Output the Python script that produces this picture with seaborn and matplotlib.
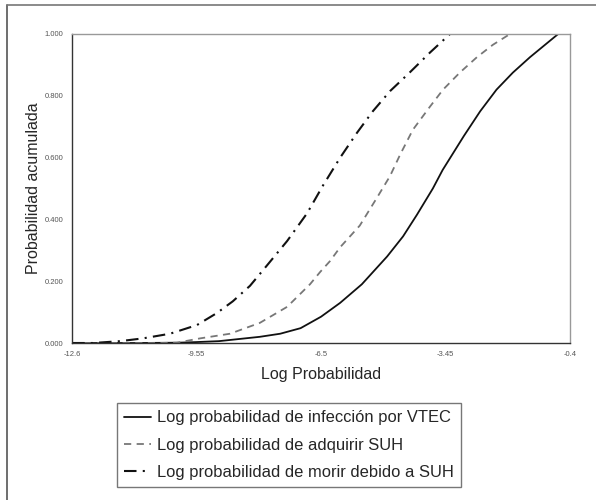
import matplotlib
matplotlib.use("Agg")
import matplotlib.pyplot as plt
from matplotlib.lines import Line2D
import numpy as np
import pandas as pd
import seaborn as sns

# Cumulative probability curves
vtec_x = [-12.6, -11.0, -10.0, -9.55, -9.0, -8.0, -7.5, -7.0, -6.5, -6.03, -5.5,
          -4.88, -4.49, -4.15, -3.76, -3.52, -3.0, -2.6, -2.2, -1.8, -1.38, -0.69]
vtec_y = [0.0, 0.0, 0.001, 0.003, 0.006, 0.02, 0.03, 0.048, 0.085, 0.13, 0.19,
          0.28, 0.345, 0.415, 0.50, 0.56, 0.67, 0.75, 0.82, 0.875, 0.925, 1.0]

suh_x = [-12.6, -10.5, -10.03, -9.46, -8.73, -8.0, -7.33, -7.0, -6.77, -6.52, -6.28,
         -6.03, -5.55, -5.13, -4.81, -4.56, -4.25, -3.83, -3.51, -3.10, -2.68, -2.29, -1.87]
suh_y = [0.0, 0.0, 0.001, 0.015, 0.03, 0.065, 0.117, 0.16, 0.19, 0.23, 0.265,
         0.31, 0.38, 0.47, 0.54, 0.61, 0.69, 0.765, 0.82, 0.875, 0.925, 0.965, 1.0]

morir_x = [-12.6, -12.08, -11.42, -10.86, -10.2, -9.54, -9.05, -8.66, -8.24, -7.83,
           -7.33, -6.84, -6.45, -6.03, -5.62, -5.23, -4.81, -4.33, -3.83, -3.34]
morir_y = [0.0, 0.0, 0.006, 0.015, 0.03, 0.058, 0.097, 0.135, 0.185, 0.25,
           0.33, 0.42, 0.51, 0.60, 0.68, 0.75, 0.815, 0.875, 0.94, 1.0]

labels = ["Log probabilidad de infección por VTEC",
          "Log probabilidad de adquirir SUH",
          "Log probabilidad de morir debido a SUH"]
x_ticks = [-12.6, -9.55, -6.5, -3.45, -0.4]
y_ticks = [0.0, 0.2, 0.4, 0.6, 0.8, 1.0]

sns.set_style("white")
plt.rcParams["font.family"] = ["Liberation Sans", "DejaVu Sans"]

fig = plt.figure(figsize=(5.96, 5.0), dpi=100)
ax = fig.add_axes([72 / 596, 1 - 343 / 500, (570 - 72) / 596, (343 - 34) / 500])

styles = [
    dict(color="#111111", linestyle="-", lw=1.3),
    dict(color="#777777", linestyle=(0, (4, 3)), lw=1.3),
    dict(color="#111111", linestyle=(0, (6, 3, 1, 3)), lw=1.5),
]
series = [(vtec_x, vtec_y), (suh_x, suh_y), (morir_x, morir_y)]
for (xs, ys), st, lab in zip(series, styles, labels):
    df = pd.DataFrame({"x": xs, "y": ys})
    sns.lineplot(data=df, x="x", y="y", ax=ax, label=lab, **st)

ax.set_xlim(-12.6, -0.4)
ax.set_ylim(0, 1)
ax.set_xticks(x_ticks)
ax.set_xticklabels([f"{v:g}" for v in x_ticks])
ax.set_yticks(y_ticks)
ax.set_yticklabels([f"{v:.3f}" for v in y_ticks])
ax.tick_params(axis="both", direction="out", length=5, width=1, color="#444444",
               labelsize=5.5, labelcolor="#555555", pad=1)
ax.set_xlabel("Log Probabilidad", fontsize=11.5, labelpad=6)
ax.set_ylabel("Probabilidad acumulada", fontsize=11.5, labelpad=3)
for side in ["left", "bottom"]:
    ax.spines[side].set_color("#333333")
    ax.spines[side].set_linewidth(1.0)
for side in ["top", "right"]:
    ax.spines[side].set_color("#999999")
    ax.spines[side].set_linewidth(1.0)

handles, labs = ax.get_legend_handles_labels()
ax.get_legend().remove()
leg = fig.legend(handles, labs, loc="upper left",
                 bbox_to_anchor=(117 / 596, 1 - 403 / 500), fontsize=11.9,
                 frameon=True, fancybox=False, handlelength=1.6,
                 handletextpad=0.35, labelspacing=0.74, borderpad=0.45,
                 borderaxespad=0, edgecolor="#555555")
leg.get_frame().set_linewidth(1.0)

# outer frame (top and left only)
fig.add_artist(Line2D([7 / 596, 7 / 596], [0, 1 - 5 / 500], transform=fig.transFigure,
                      color="#555555", lw=1.2))
fig.add_artist(Line2D([7 / 596, 1], [1 - 5 / 500, 1 - 5 / 500], transform=fig.transFigure,
                      color="#777777", lw=1.2))

fig.savefig("out.png", dpi=100)
